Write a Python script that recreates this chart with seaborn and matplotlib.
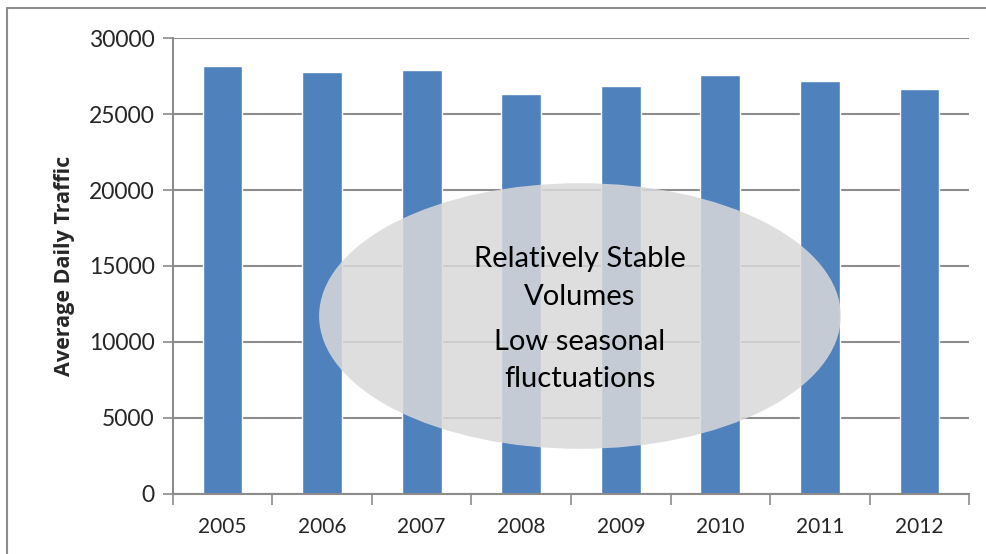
import pandas as pd
import matplotlib.pyplot as plt
import seaborn as sns
from matplotlib.patches import Ellipse
from matplotlib.lines import Line2D

# dados
anos = ['2005', '2006', '2007', '2008', '2009', '2010', '2011', '2012']
trafego = [28180, 27780, 27890, 26320, 26840, 27570, 27210, 26670]
texto_1 = 'Relatively Stable\nVolumes'
texto_2 = 'Low seasonal\nfluctuations'

df = pd.DataFrame({'Ano': anos, 'Trafego': trafego})

sns.set_style('white')
plt.rcParams['font.family'] = ['Lato', 'DejaVu Sans']

fig = plt.figure(figsize=(9.87, 5.54), dpi=100)
ax = fig.add_axes([0.175, 0.109, 0.807, 0.822])

sns.barplot(data=df, x='Ano', y='Trafego', color='#4f81bd', width=0.4,
            saturation=1, ax=ax, zorder=2)

ax.set_ylim(0, 30000)
ax.set_xlim(-0.5, 7.5)
ax.set_yticks(range(0, 30001, 5000))
ax.yaxis.grid(True, color='#8c8c8c', linewidth=1.5, zorder=0)
ax.set_axisbelow(True)

# ticks do eixo x nas divisas entre categorias
ax.set_xticks([i - 0.5 for i in range(9)], minor=True)
ax.tick_params(axis='x', which='major', length=0, labelsize=15, pad=17)
ax.tick_params(axis='x', which='minor', length=8, width=1.2, color='#8c8c8c',
               direction='out', bottom=True)
ax.tick_params(axis='y', length=7, width=1.2, color='#8c8c8c', labelsize=16.5,
               direction='out', left=True, pad=6)

for s in ['top', 'right']:
    ax.spines[s].set_visible(False)
for s in ['left', 'bottom']:
    ax.spines[s].set_color('#8c8c8c')
    ax.spines[s].set_linewidth(1.5)

ax.set_xlabel('')
ax.set_ylabel('Average Daily Traffic', fontsize=15.5, fontweight='bold',
              family=['Open Sans', 'DejaVu Sans'], labelpad=10)

# balao com o comentario
elipse = Ellipse((3.59, 11700), width=5.24, height=17500, facecolor='#d9d9d9',
                 edgecolor='none', alpha=0.85, zorder=3)
ax.add_patch(elipse)
ax.text(3.59, 14210, texto_1, ha='center', va='center', fontsize=21,
        linespacing=1.55, zorder=4, color='black')
ax.text(3.59, 8780, texto_2, ha='center', va='center', fontsize=21,
        linespacing=1.55, zorder=4, color='black')

# borda do grafico (so esquerda e topo aparecem)
fig.add_artist(Line2D([0.007, 0.007], [0, 0.986], color='#8c8c8c', linewidth=1.5,
                      transform=fig.transFigure))
fig.add_artist(Line2D([0.007, 1], [0.986, 0.986], color='#8c8c8c', linewidth=1.5,
                      transform=fig.transFigure))

plt.savefig('out.png', dpi=100)
